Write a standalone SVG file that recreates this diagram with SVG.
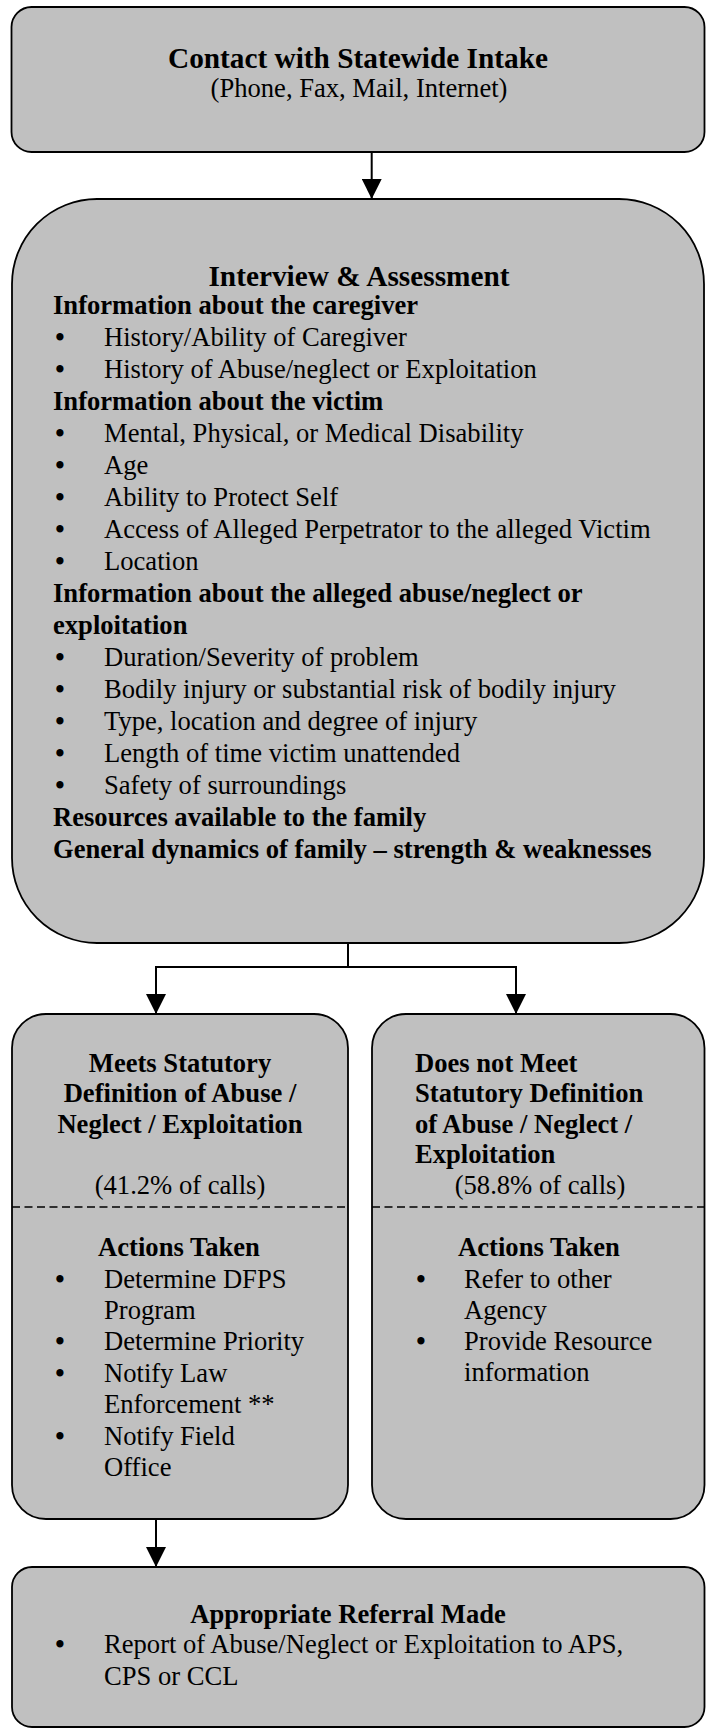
<svg xmlns="http://www.w3.org/2000/svg" width="706" height="1729" viewBox="0 0 706 1729">
<defs>
<style>
.box{fill:#c0c0c0;stroke:#000;stroke-width:1.8}
.t{font-family:"Liberation Serif","Times New Roman",serif;font-size:26.6px;fill:#000}
.b{font-weight:bold}
.h{font-size:29.3px;font-weight:bold}
.c{text-anchor:middle}
.bu{font-family:"Liberation Serif","Times New Roman",serif;font-size:26.6px;font-weight:bold;fill:#000;text-anchor:middle}
.dash{stroke:#000;stroke-width:1.5;stroke-dasharray:8 4.5;fill:none}
.conn{stroke:#000;stroke-width:2;fill:none}
</style>
<marker id="arr" viewBox="0 0 20 20" refX="20" refY="10" markerWidth="20" markerHeight="20" markerUnits="userSpaceOnUse" orient="auto">
<path d="M0,0 L20,10 L0,20 z" fill="#000"/>
</marker>
</defs>
<rect width="706" height="1729" fill="#fff"/>

<g id="connectors">
<path class="conn" d="M371.7,152 V199" marker-end="url(#arr)"/>
<path class="conn" d="M348,943 V967"/>
<path class="conn" d="M348,967 H156 V1014" marker-end="url(#arr)"/>
<path class="conn" d="M348,967 H516 V1014" marker-end="url(#arr)"/>
<path class="conn" d="M156,1519 V1567" marker-end="url(#arr)"/>
</g>

<g id="intake">
<rect class="box" x="11.5" y="7" width="693" height="145" rx="20"/>
<text class="t h c" x="358" y="68">Contact with Statewide Intake</text>
<text class="t c" x="359" y="97">(Phone, Fax, Mail, Internet)</text>
</g>

<g id="interview">
<rect class="box" x="12" y="199" width="692" height="744" rx="85"/>
<text class="t h c" x="359" y="285.5">Interview &amp; Assessment</text>
<text class="t b" x="53" y="314">Information about the caregiver</text>
<text class="bu" x="60" y="346">•</text><text class="t" x="104" y="346">History/Ability of Caregiver</text>
<text class="bu" x="60" y="378">•</text><text class="t" x="104" y="378">History of Abuse/neglect or Exploitation</text>
<text class="t b" x="53" y="410">Information about the victim</text>
<text class="bu" x="60" y="442">•</text><text class="t" x="104" y="442">Mental, Physical, or Medical Disability</text>
<text class="bu" x="60" y="474">•</text><text class="t" x="104" y="474">Age</text>
<text class="bu" x="60" y="506">•</text><text class="t" x="104" y="506">Ability to Protect Self</text>
<text class="bu" x="60" y="538">•</text><text class="t" x="104" y="538">Access of Alleged Perpetrator to the alleged Victim</text>
<text class="bu" x="60" y="570">•</text><text class="t" x="104" y="570">Location</text>
<text class="t b" x="53" y="602">Information about the alleged abuse/neglect or</text>
<text class="t b" x="53" y="634">exploitation</text>
<text class="bu" x="60" y="666">•</text><text class="t" x="104" y="666">Duration/Severity of problem</text>
<text class="bu" x="60" y="698">•</text><text class="t" x="104" y="698">Bodily injury or substantial risk of bodily injury</text>
<text class="bu" x="60" y="730">•</text><text class="t" x="104" y="730">Type, location and degree of injury</text>
<text class="bu" x="60" y="762">•</text><text class="t" x="104" y="762">Length of time victim unattended</text>
<text class="bu" x="60" y="794">•</text><text class="t" x="104" y="794">Safety of surroundings</text>
<text class="t b" x="53" y="826">Resources available to the family</text>
<text class="t b" x="53" y="858">General dynamics of family – strength &amp; weaknesses</text>
</g>

<g id="meets">
<rect class="box" x="12" y="1014" width="336" height="505" rx="34"/>
<text class="t b c" x="180" y="1072">Meets Statutory</text>
<text class="t b c" x="180" y="1102">Definition of Abuse /</text>
<text class="t b c" x="180" y="1133">Neglect / Exploitation</text>
<text class="t c" x="180" y="1194">(41.2% of calls)</text>
<line class="dash" x1="12" y1="1207" x2="348" y2="1207"/>
<text class="t b c" x="179" y="1256">Actions Taken</text>
<text class="bu" x="60" y="1288">•</text><text class="t" x="104" y="1288">Determine DFPS</text>
<text class="t" x="104" y="1319">Program</text>
<text class="bu" x="60" y="1350">•</text><text class="t" x="104" y="1350">Determine Priority</text>
<text class="bu" x="60" y="1382">•</text><text class="t" x="104" y="1382">Notify Law</text>
<text class="t" x="104" y="1413">Enforcement **</text>
<text class="bu" x="60" y="1445">•</text><text class="t" x="104" y="1445">Notify Field</text>
<text class="t" x="104" y="1476">Office</text>
</g>

<g id="notmeets">
<rect class="box" x="372" y="1014" width="332.5" height="505" rx="34"/>
<text class="t b" x="415" y="1072">Does not Meet</text>
<text class="t b" x="415" y="1102">Statutory Definition</text>
<text class="t b" x="415" y="1133">of Abuse / Neglect /</text>
<text class="t b" x="415" y="1163">Exploitation</text>
<text class="t c" x="540" y="1194">(58.8% of calls)</text>
<line class="dash" x1="372" y1="1207" x2="704.5" y2="1207"/>
<text class="t b c" x="539" y="1256">Actions Taken</text>
<text class="bu" x="421" y="1288">•</text><text class="t" x="464" y="1288">Refer to other</text>
<text class="t" x="464" y="1319">Agency</text>
<text class="bu" x="421" y="1350">•</text><text class="t" x="464" y="1350">Provide Resource</text>
<text class="t" x="464" y="1381">information</text>
</g>

<g id="referral">
<rect class="box" x="12" y="1567" width="692.5" height="160" rx="20"/>
<text class="t b c" x="348" y="1623">Appropriate Referral Made</text>
<text class="bu" x="60" y="1653">•</text><text class="t" x="104" y="1653">Report of Abuse/Neglect or Exploitation to APS,</text>
<text class="t" x="104" y="1685">CPS or CCL</text>
</g>
</svg>
